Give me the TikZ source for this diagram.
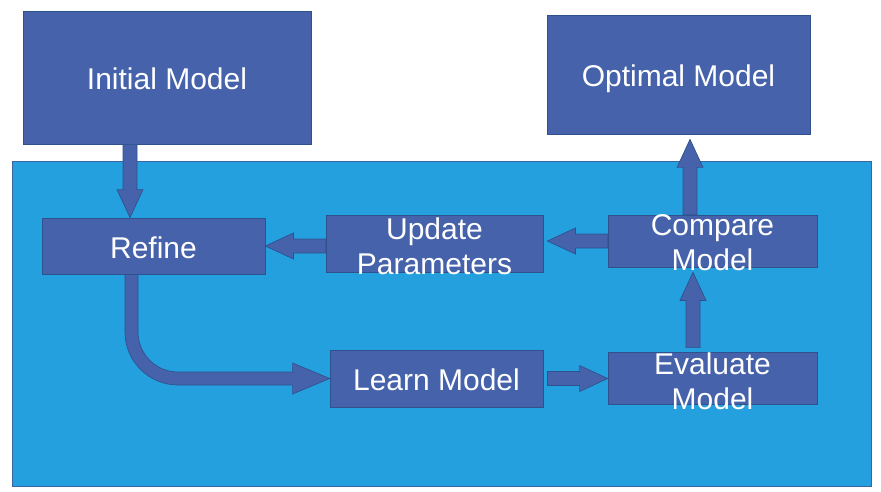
\documentclass[tikz,border=0pt]{standalone}
\usepackage{fontspec}
\setmainfont{Liberation Sans}
\usetikzlibrary{calc}
\definecolor{boxblue}{RGB}{69,98,170}
\definecolor{boxedge}{RGB}{47,82,143}
\definecolor{stageblue}{RGB}{37,160,223}
\definecolor{stageedge}{RGB}{62,100,160}

\begin{document}
\begin{tikzpicture}[
  x=1pt,y=1pt,
  box/.style={draw=boxedge,line width=0.8pt,fill=boxblue,text=white,
              inner sep=0pt,text height=27pt,text depth=2.5pt,
              font=\fontsize{30}{35}\selectfont},
  txt/.style={text=white,align=center,font=\fontsize{30}{35}\selectfont},
  stage/.style={draw=stageedge,line width=0.8pt,fill=stageblue},
  flow/.style={draw=boxedge,line width=0.7pt,fill=boxblue,line join=miter,
    to path={let \p1=(\tikztostart),\p2=(\tikztotarget),
        \n1={atan2((\y2)-(\y1),(\x2)-(\x1))},
        \n2={veclen((\x2)-(\x1),(\y2)-(\y1))} in
      [shift={(\p1)},rotate=\n1]
      (0pt,-7pt) -- ({(\n2-28)*1pt},-7pt) -- ({(\n2-28)*1pt},-13pt)
      -- ({\n2*1pt},0pt) -- ({(\n2-28)*1pt},13pt) -- ({(\n2-28)*1pt},7pt)
      -- (0pt,7pt) -- cycle}},
  roundflow/.style={draw=boxedge,line width=0.7pt,fill=boxblue,line join=miter},
]
\useasboundingbox (0,0) rectangle (881,-492);

% ---- the learning stage ----
\node[stage,minimum width=859pt,minimum height=325pt] (lane) at (441.5,-323.5) {};

% ---- outer models ----
\node[box,minimum width=288pt,minimum height=133pt] (init) at (167,-77.5) {Initial Model};
\node[box,minimum width=263pt,minimum height=119pt] (opt) at (678.5,-74.5) {Optimal Model};

% ---- steps inside the stage ----
\node[box,minimum width=223pt,minimum height=56pt] (ref) at (153.5,-246) {Refine};
\node[box,minimum width=217pt,minimum height=57pt,
      label={[txt,yshift=-2.5pt]center:{Update\\Parameters}}] (upd) at (434.5,-243.5) {};
\node[box,minimum width=209pt,minimum height=52pt,
      label={[txt,yshift=-2pt]center:{Compare\\Model}}] (cmp) at (712.5,-241) {};
\node[box,minimum width=213pt,minimum height=57pt] (lrn) at (436.5,-378.5) {Learn Model};
\node[box,minimum width=209pt,minimum height=52pt,
      label={[txt,yshift=-3pt]center:{Evaluate\\Model}}] (evl) at (712.5,-378) {};

% ---- block arrows ----
\draw[flow] ([xshift=-37pt]init.south) to ([xshift=-23.5pt]ref.north);
\draw[flow] (upd.west |- ref.east) to (ref.east);
\draw[flow] (cmp.west) to ([xshift=4pt]upd.east |- cmp.west);
\draw[flow] ([xshift=-22.5pt]cmp.north) to ([xshift=11.5pt,yshift=-5pt]opt.south);
\draw[flow] ([xshift=-19.5pt,yshift=4pt]evl.north) to ([xshift=-19.5pt,yshift=-5pt]cmp.south);
\draw[flow] ([xshift=4pt]lrn.east) to (evl.west |- lrn.east);

% bent arrow, refine down and round into learn
\draw[roundflow] let \p1=([xshift=-28.5pt]ref.south), \p2=(lrn.west) in
  (\p1) -- (\x1,{\y2+46.5pt}) arc[start angle=180,end angle=270,radius=53pt]
  -- ({\x2-37pt},{\y2-6.5pt}) -- ({\x2-37pt},{\y2-15.5pt}) -- (\p2)
  -- ({\x2-37pt},{\y2+15.5pt}) -- ({\x2-37pt},{\y2+6.5pt})
  -- ({\x1+53pt},{\y2+6.5pt}) arc[start angle=270,end angle=180,radius=40pt]
  -- ({\x1+13pt},\y1) -- cycle;

\end{tikzpicture}
\end{document}
